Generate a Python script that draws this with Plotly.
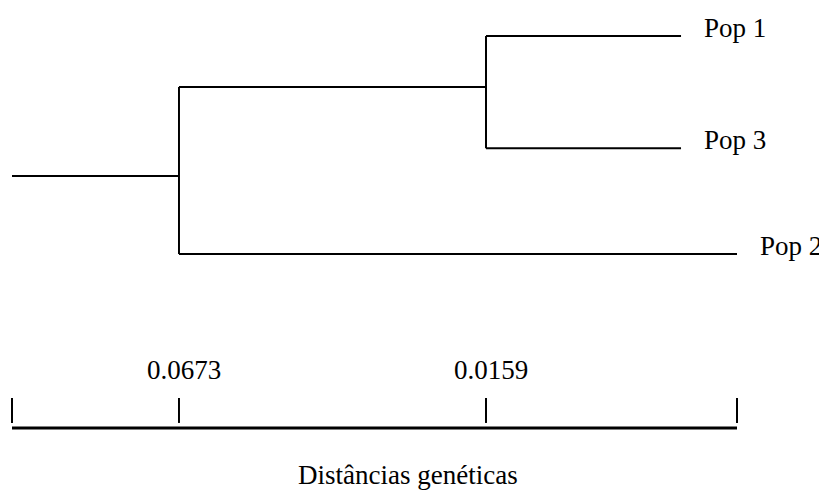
import plotly.graph_objects as go

# ---- data ----
taxa = ["Pop 1", "Pop 3", "Pop 2"]
taxa_x = [0.9228, 0.9228, 1.0]
taxa_y = [1.0, 2.03, 3.0]

clusters = ["root", "n1"]
cluster_x = [0.2303, 0.6538]
cluster_y = [2.284, 1.468]
cluster_children = [["n1", "Pop 2"], ["Pop 1", "Pop 3"]]
root_start_x = 0.0

scale_ticks = [0.0, 0.2303, 0.6538, 1.0]
scale_labels = ["", "0.0673", "0.0159", ""]
axis_title = "Distâncias genéticas"

# ---- layout constants ----
BAR_Y = 4.596
TICK_TOP = 4.321
TICK_BOT = 4.550
LABEL_Y = 4.064
TITLE_Y = 5.028
FONT = "Liberation Serif, Times New Roman, serif"
FS = 27
PAGE_OFF = 8  # default body margin of the html page

pos = {}
for n, x, y in zip(taxa, taxa_x, taxa_y):
    pos[n] = (x, y)
for n, x, y in zip(clusters, cluster_x, cluster_y):
    pos[n] = (x, y)

xs, ys = [], []
rx, ry = pos["root"]
xs += [root_start_x, rx, None]
ys += [ry, ry, None]
for n, ch in zip(clusters, cluster_children):
    px, py = pos[n]
    cys = [pos[c][1] for c in ch]
    xs += [px, px, None]
    ys += [min(cys), max(cys), None]
    for c in ch:
        cx, cy = pos[c]
        xs += [px, cx, None]
        ys += [cy, cy, None]

fig = go.Figure()
fig.add_trace(go.Scatter(x=xs, y=ys, mode="lines",
                         line=dict(color="black", width=2),
                         hoverinfo="skip", showlegend=False))

# scale bar
fig.add_trace(go.Scatter(x=[scale_ticks[0], scale_ticks[-1]], y=[BAR_Y, BAR_Y],
                         mode="lines", line=dict(color="black", width=3),
                         hoverinfo="skip", showlegend=False))
tx, ty = [], []
for t in scale_ticks:
    tx += [t, t, None]
    ty += [TICK_TOP, TICK_BOT, None]
fig.add_trace(go.Scatter(x=tx, y=ty, mode="lines",
                         line=dict(color="black", width=2),
                         hoverinfo="skip", showlegend=False))

annotations = []
for n, x, y in zip(taxa, taxa_x, taxa_y):
    annotations.append(dict(x=x, y=y, text=n, showarrow=False,
                            xanchor="left", yanchor="middle",
                            xshift=21, yshift=8,
                            font=dict(family=FONT, size=FS, color="black")))
for t, lab in zip(scale_ticks, scale_labels):
    if lab:
        annotations.append(dict(x=t, y=LABEL_Y, text=lab, showarrow=False,
                                xanchor="center", yanchor="middle", xshift=5,
                                font=dict(family=FONT, size=FS, color="black")))
annotations.append(dict(x=0.5465, y=TITLE_Y, text=axis_title, showarrow=False,
                        xanchor="center", yanchor="middle",
                        font=dict(family=FONT, size=FS, color="black")))

fig.update_layout(
    width=827, height=491,
    margin=dict(l=0, r=0, t=0, b=0),
    paper_bgcolor="white", plot_bgcolor="white",
    xaxis=dict(range=[(PAGE_OFF - 12) / 725, (827 + PAGE_OFF - 12) / 725],
               visible=False, fixedrange=True),
    yaxis=dict(range=[1 + (491 + PAGE_OFF - 36) / 109, 1 + (PAGE_OFF - 36) / 109],
               visible=False, fixedrange=True),
    annotations=annotations,
    showlegend=False,
)

fig.write_html("out.html")
